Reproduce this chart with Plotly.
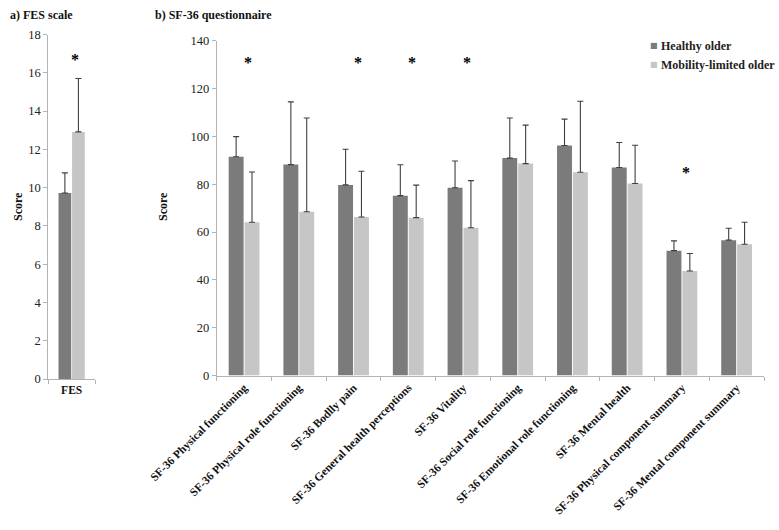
import plotly.graph_objects as go

# ---- data ----
fes_category = ["FES"]
fes_healthy = [9.72]
fes_healthy_sd = [1.05]
fes_mobility = [12.91]
fes_mobility_sd = [2.79]

sf36_categories = [
    "SF-36 Physical functioning",
    "SF-36 Physical role functioning",
    "SF-36 Bodlly pain",
    "SF-36 General health perceptions",
    "SF-36 Vitality",
    "SF-36 Social role functioning",
    "SF-36 Emotional role functioning",
    "SF-36 Mental health",
    "SF-36 Physical component summary",
    "SF-36 Mental component summary",
]
sf36_healthy = [91.5, 88.2, 79.7, 75.2, 78.5, 90.9, 96.2, 87.0, 52.2, 56.6]
sf36_healthy_sd = [8.4, 26.2, 14.9, 12.9, 11.2, 16.8, 11.0, 10.4, 4.1, 5.0]
sf36_mobility = [64.1, 68.5, 66.3, 66.0, 61.8, 88.6, 85.0, 80.3, 43.7, 54.9]
sf36_mobility_sd = [21.0, 39.2, 19.1, 13.6, 19.7, 16.1, 29.7, 16.0, 7.3, 9.2]

sig_categories = [sf36_categories[i] for i in (0, 2, 3, 4, 8)]
sig_y = [131, 131, 131, 131, 85]
fes_sig_y = 16.7

series_names = ["Healthy older", "Mobility-limited older"]
c_healthy = "#7b7b7b"
c_mobility = "#c6c6c6"
err_color = "#3f3f3f"
axis_color = "#b3b3b3"
serif = "Liberation Serif, Times New Roman, serif"

fig = go.Figure()

def err(sd):
    return dict(type="data", array=sd, arrayminus=[0] * len(sd), symmetric=False,
                color=err_color, thickness=1.1, width=3)

fig.add_trace(go.Bar(x=fes_category, y=fes_healthy, error_y=err(fes_healthy_sd),
                     marker_color=c_healthy, xaxis="x", yaxis="y", name=series_names[0]))
fig.add_trace(go.Bar(x=fes_category, y=fes_mobility, error_y=err(fes_mobility_sd),
                     marker_color=c_mobility, xaxis="x", yaxis="y", name=series_names[1]))
fig.add_trace(go.Bar(x=sf36_categories, y=sf36_healthy, error_y=err(sf36_healthy_sd),
                     marker_color=c_healthy, xaxis="x2", yaxis="y2", name=series_names[0]))
fig.add_trace(go.Bar(x=sf36_categories, y=sf36_mobility, error_y=err(sf36_mobility_sd),
                     marker_color=c_mobility, xaxis="x2", yaxis="y2", name=series_names[1]))

W, H = 779, 530
def px(x):
    return x / W
def py(y):
    return (H - y) / H

common_y = dict(showgrid=False, zeroline=False, showline=True, linecolor=axis_color, linewidth=1,
                ticks="outside", ticklen=4, tickcolor=axis_color,
                tickfont=dict(family=serif, size=12.5, color="#222"), automargin=False)
common_x = dict(showgrid=False, zeroline=False, showline=True, linecolor=axis_color, linewidth=1,
                ticks="outside", ticklen=4, tickcolor=axis_color, tickson="boundaries",
                tickfont=dict(family=serif, size=11.5, color="#111", weight="bold"), automargin=False)

fig.update_layout(
    width=W, height=H, template="none",
    paper_bgcolor="white", plot_bgcolor="white",
    margin=dict(l=0, r=0, t=0, b=0),
    barmode="group", bargap=0.42, bargroupgap=0.06,
    showlegend=False,
    xaxis=dict(domain=[px(48.3), px(95)], anchor="y", **common_x),
    yaxis=dict(domain=[py(379), py(34.5)], range=[0, 18], dtick=2, anchor="x", **common_y),
    xaxis2=dict(domain=[px(216.7), px(764)], tickangle=-45, anchor="y2", **common_x),
    yaxis2=dict(domain=[py(375.5), py(40.7)], range=[0, 140], dtick=20, anchor="x2", **common_y),
)

bold12 = dict(family=serif, size=12, color="#111", weight="bold")
annotations = [
    dict(text="a) FES scale", x=px(8), y=py(15), xref="paper", yref="paper",
         xanchor="left", yanchor="middle", showarrow=False, font=bold12),
    dict(text="b) SF-36 questionnaire", x=px(153), y=py(15), xref="paper", yref="paper",
         xanchor="left", yanchor="middle", showarrow=False, font=bold12),
    dict(text="Score", x=px(18), y=py(207), xref="paper", yref="paper", textangle=-90,
         xanchor="center", yanchor="middle", showarrow=False, font=bold12),
    dict(text="Score", x=px(163), y=py(207), xref="paper", yref="paper", textangle=-90,
         xanchor="center", yanchor="middle", showarrow=False, font=bold12),
    dict(text="*", x=fes_category[0], y=fes_sig_y, xref="x", yref="y", xshift=3,
         showarrow=False, font=dict(family=serif, size=16, color="black", weight="bold")),
]
for c, yv in zip(sig_categories, sig_y):
    annotations.append(dict(text="*", x=c, y=yv, xref="x2", yref="y2", xshift=4,
                            showarrow=False, font=dict(family=serif, size=16, color="black", weight="bold")))
# legend (swatch + label)
for name, col, ly in zip(series_names, [c_healthy, c_mobility], [46, 65]):
    annotations.append(dict(text="■", x=px(653.5), y=py(ly), xref="paper", yref="paper",
                            xanchor="center", yanchor="middle", showarrow=False,
                            font=dict(family="DejaVu Sans", size=8, color=col)))
    annotations.append(dict(text=name, x=px(658.5), y=py(ly), xref="paper", yref="paper",
                            xanchor="left", yanchor="middle", showarrow=False,
                            font=dict(family=serif, size=12, color="#222", weight="bold")))
fig.update_layout(annotations=annotations)

fig.write_html("out.html", config={"displayModeBar": False},
               post_script="document.body.style.margin='0';")
